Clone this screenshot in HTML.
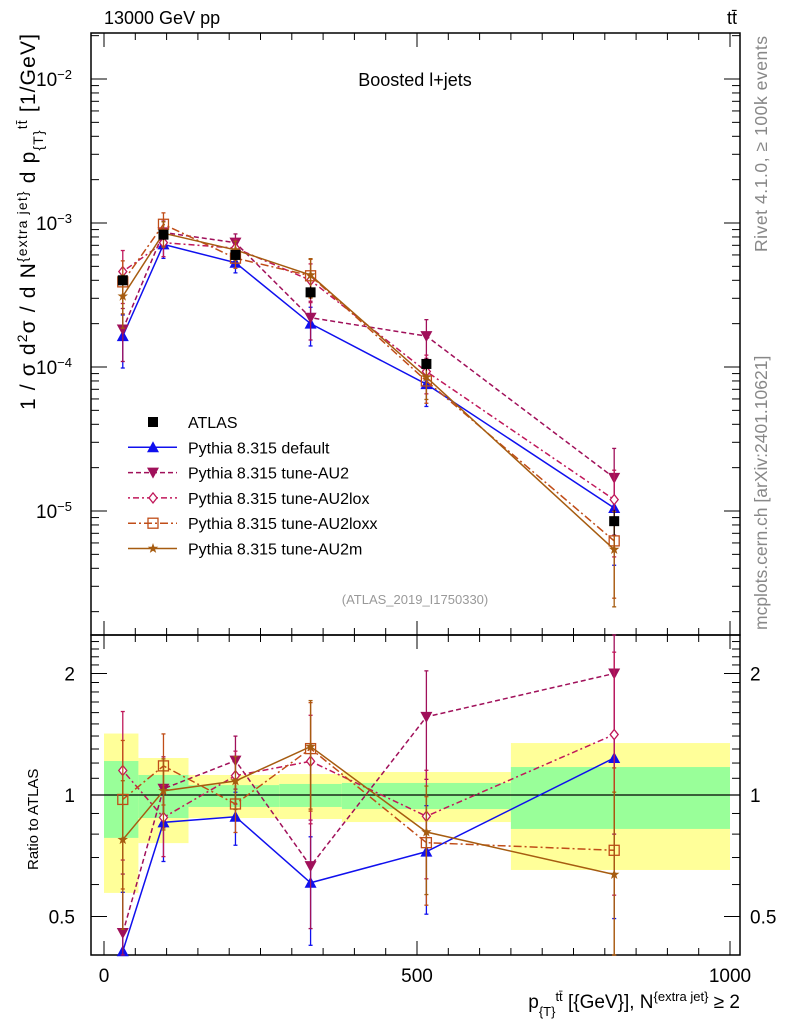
<!DOCTYPE html>
<html><head><meta charset="utf-8"><style>
body{margin:0;background:#fff}
svg{display:block;font-family:"Liberation Sans",sans-serif}
</style></head><body>
<svg id="chart" width="786" height="1024" xmlns="http://www.w3.org/2000/svg">
<g id="bands"></g>
<g id="axes"></g>
<g id="series"></g>
<text x="104" y="24" font-size="18">13000 GeV pp</text>
<text x="737" y="24" font-size="18" text-anchor="end">tt̄</text>
<text x="415" y="86" font-size="18" text-anchor="middle">Boosted l+jets</text>
<text x="415" y="604" font-size="13" fill="#999" text-anchor="middle">(ATLAS_2019_I1750330)</text>
<text transform="translate(767,252) rotate(-90)" font-size="17.5" fill="#888" text-anchor="start" textLength="216">Rivet 4.1.0, ≥ 100k events</text>
<text transform="translate(767,630) rotate(-90)" font-size="17.5" fill="#888" text-anchor="start">mcplots.cern.ch [arXiv:2401.10621]</text>
<text transform="translate(35,410) rotate(-90)" font-size="21" textLength="376">1 / σ d<tspan baseline-shift="super" font-size="14">2</tspan>σ / d N<tspan baseline-shift="super" font-size="14">{extra jet}</tspan> d p<tspan baseline-shift="sub" font-size="14">{T}</tspan><tspan baseline-shift="super" font-size="14">tt̄</tspan> [1/GeV]</text>
<text transform="translate(38,870) rotate(-90)" font-size="15">Ratio to ATLAS</text>
<text x="740" y="1008" font-size="19" text-anchor="end">p<tspan baseline-shift="sub" font-size="13">{T}</tspan><tspan baseline-shift="super" font-size="13">tt̄</tspan> [{GeV}], N<tspan baseline-shift="super" font-size="13">{extra jet}</tspan> ≥ 2</text>
<g id="legend"></g>
</svg>
<script>
const xCenters=[30,95,210,330,515,815];
const atlasVals=[4.0e-4,8.3e-4,6.0e-4,3.3e-4,1.05e-4,8.5e-6];
const atlasErr=[0.08,0.08,0.08,0.1,0.1,0.2];
const defaultVals=[1.64e-4,7.1e-4,5.3e-4,2.0e-4,7.6e-5,1.05e-5];
const au2Vals=[1.82e-4,8.6e-4,7.3e-4,2.2e-4,1.64e-4,1.7e-5];
const au2loxVals=[4.6e-4,7.3e-4,6.7e-4,4.0e-4,9.3e-5,1.2e-5];
const au2loxxVals=[3.9e-4,9.8e-4,5.7e-4,4.3e-4,8.0e-5,6.2e-6];
const au2mVals=[3.1e-4,8.5e-4,6.5e-4,4.35e-4,8.5e-5,5.4e-6];
const mcRelErr=[0.4,0.2,0.15,0.3,0.3,0.6];
const binEdges=[0,55,135,280,380,650,1000];
const yellowHi=[1.42,1.235,1.121,1.127,1.14,1.345];
const yellowLo=[0.572,0.76,0.877,0.872,0.857,0.652];
const greenHi=[1.214,1.121,1.058,1.065,1.071,1.173];
const greenLo=[0.783,0.877,0.934,0.934,0.923,0.824];
const xTicks=[0,500,1000];
const mainTickLabels=["10","10","10","10"];
const mainTickExps=[-2,-3,-4,-5];
const ratioTicks=[0.5,1,2];

const NS="http://www.w3.org/2000/svg";
const L=91,R=740,T=33,M=635,B=955;
const X=v=>104+v*0.626;
const Y=v=>223-(Math.log10(v)+3)*144;
const YR=r=>795-Math.log2(r)*121.5;
function mk(tag,attrs,parent){const e=document.createElementNS(NS,tag);for(const k in attrs)e.setAttribute(k,attrs[k]);parent.appendChild(e);return e;}
const axes=document.getElementById('axes'),bands=document.getElementById('bands'),ser=document.getElementById('series'),leg=document.getElementById('legend');

for(let i=0;i<binEdges.length-1;i++){
  let y=mk('rect',{x:X(binEdges[i]),y:YR(yellowHi[i]),width:X(binEdges[i+1])-X(binEdges[i]),height:YR(yellowLo[i])-YR(yellowHi[i]),fill:'#ffff99'},bands);
  
  
  let g=mk('rect',{x:X(binEdges[i]),y:YR(greenHi[i]),width:X(binEdges[i+1])-X(binEdges[i]),height:YR(greenLo[i])-YR(greenHi[i]),fill:'#99ff99'},bands);
  
  
}
mk('rect',{x:L,y:T,width:R-L,height:M-T,fill:'none',stroke:'#000','stroke-width':1.5},axes);
mk('rect',{x:L,y:M,width:R-L,height:B-M,fill:'none',stroke:'#000','stroke-width':1.5},axes);
mk('line',{x1:L,x2:R,y1:YR(1),y2:YR(1),stroke:'#000','stroke-width':1.2},axes);
for(let v=0;v<=1000;v+=50){
  const big=v%500===0, len=big?14:7;
  for(const [y0,d] of [[T,1],[M,-1],[M,1],[B,-1]]) mk('line',{x1:X(v),x2:X(v),y1:y0,y2:y0+d*len,stroke:'#000'},axes);
}
xTicks.forEach(v=>{const t=mk('text',{x:X(v),y:982,'font-size':19,'text-anchor':'middle'},axes);t.textContent=v;
 
 });
for(let e=-6;e<=-2;e++){for(let m=1;m<10;m++){const v=m*Math.pow(10,e);const y=Y(v);if(y<T||y>M)continue;
 const len=m===1?16:8;mk('line',{x1:L,x2:L+len,y1:y,y2:y,stroke:'#000'},axes);mk('line',{x1:R,x2:R-len,y1:y,y2:y,stroke:'#000'},axes);}}
mainTickExps.forEach((e,i)=>{const t=mk('text',{x:72,y:Y(Math.pow(10,e))+7,'font-size':19,'text-anchor':'end'},axes);
 t.innerHTML=mainTickLabels[i]+'<tspan baseline-shift="super" font-size="13">'+(e<0?'−':'')+Math.abs(e)+'</tspan>';
 
 });
for(let k=4;k<=25;k++){const r=k/10;const y=YR(r);if(y<M||y>B)continue;const major=ratioTicks.includes(r);const len=major?16:8;
 mk('line',{x1:L,x2:L+len,y1:y,y2:y,stroke:'#000'},axes);mk('line',{x1:R,x2:R-len,y1:y,y2:y,stroke:'#000'},axes);}
ratioTicks.forEach(r=>{for(const [x,a] of [[75,'end'],[750,'start']]){const t=mk('text',{x:x,y:YR(r)+7,'font-size':19,'text-anchor':a},axes);t.textContent=r;
 
 }});

function marker(type,x,y,c,p){
 if(type==='sq') return mk('rect',{x:x-5,y:y-5,width:10,height:10,fill:'#000'},p);
 if(type==='up') return mk('polygon',{points:`${x},${y-6} ${x-6},${y+5} ${x+6},${y+5}`,fill:c},p);
 if(type==='down') return mk('polygon',{points:`${x},${y+6} ${x-6},${y-5} ${x+6},${y-5}`,fill:c},p);
 if(type==='dia') return mk('polygon',{points:`${x},${y-5} ${x-4},${y} ${x},${y+5} ${x+4},${y}`,fill:'#fff',stroke:c,'stroke-width':1.3},p);
 if(type==='osq') return mk('rect',{x:x-5,y:y-5,width:10,height:10,fill:'none',stroke:c,'stroke-width':1.3},p);
 if(type==='star'){let pts=[];for(let i=0;i<10;i++){const a=Math.PI/5*i-Math.PI/2,rr=i%2?2.2:5.5;pts.push((x+rr*Math.cos(a)).toFixed(1)+','+(y+rr*Math.sin(a)).toFixed(1));}return mk('polygon',{points:pts.join(' '),fill:c},p);}
}
const series=[
 {name:'Pythia 8.315 default',vals:defaultVals,c:'#1010ee',dash:'',m:'up',id:'default'},
 {name:'Pythia 8.315 tune-AU2',vals:au2Vals,c:'#a0105a',dash:'5,3',m:'down',id:'au2'},
 {name:'Pythia 8.315 tune-AU2lox',vals:au2loxVals,c:'#c0185a',dash:'2,3,6,3',m:'dia',id:'au2lox'},
 {name:'Pythia 8.315 tune-AU2loxx',vals:au2loxxVals,c:'#c04d18',dash:'8,3,2,3',m:'osq',id:'au2loxx'},
 {name:'Pythia 8.315 tune-AU2m',vals:au2mVals,c:'#a65c10',dash:'',m:'star',id:'au2m'}];
const clipY=(y,a,b)=>Math.max(a,Math.min(b,y));
function ebar(x,y1,y2,c,g){mk('line',{x1:x,x2:x,y1:y1,y2:y2,stroke:c,'stroke-width':1.3},g);
 mk('line',{x1:x-2,x2:x+2,y1:y1,y2:y1,stroke:c,'stroke-width':1.3},g);mk('line',{x1:x-2,x2:x+2,y1:y2,y2:y2,stroke:c,'stroke-width':1.3},g);}
series.forEach(s=>{
 const g=mk('g',{},ser);
 
 
 const ptsM=s.vals.map((v,i)=>X(xCenters[i])+','+Y(v)).join(' ');
 mk('polyline',{points:ptsM,fill:'none',stroke:s.c,'stroke-width':1.5,'stroke-dasharray':s.dash},g);
 const ptsR=s.vals.map((v,i)=>X(xCenters[i])+','+clipY(YR(v/atlasVals[i]),M,B)).join(' ');
 mk('polyline',{points:ptsR,fill:'none',stroke:s.c,'stroke-width':1.5,'stroke-dasharray':s.dash},g);
 s.vals.forEach((v,i)=>{const x=X(xCenters[i]),e=mcRelErr[i];
  ebar(x,clipY(Y(v*(1+e)),T,M),clipY(Y(Math.max(v*(1-e),1e-9)),T,M),s.c,g);
  const r=v/atlasVals[i];
  ebar(x,clipY(YR(r*(1+e)),M,B),clipY(YR(Math.max(r*(1-e),0.01)),M,B),s.c,g);
  const pm=marker(s.m,x,Y(v),s.c,g);
  
  
  const ry=YR(r);if(ry>=M&&ry<=B){const pr=marker(s.m,x,ry,s.c,g);
  
  }
 });
});
atlasVals.forEach((v,i)=>{const x=X(xCenters[i]);
 mk('line',{x1:x,x2:x,y1:Y(v*(1+atlasErr[i])),y2:Y(v*(1-atlasErr[i])),stroke:'#000'},ser);
 const p=marker('sq',x,Y(v),'#000',ser);
 
 
});
const rows=[{name:'ATLAS',m:'sq',c:'#000',dash:null}].concat(series);
rows.forEach((s,i)=>{const y=422+i*25.3;
 const g=mk('g',{},leg);
 
 
 if(s.dash!==null) mk('line',{x1:128,x2:177,y1:y,y2:y,stroke:s.c,'stroke-width':1.5,'stroke-dasharray':s.dash},g);
 marker(s.m,153,y,s.c,g);
 const t=mk('text',{x:188,y:y+6,'font-size':16},g);t.textContent=s.name;
});
</script>
</body></html>
